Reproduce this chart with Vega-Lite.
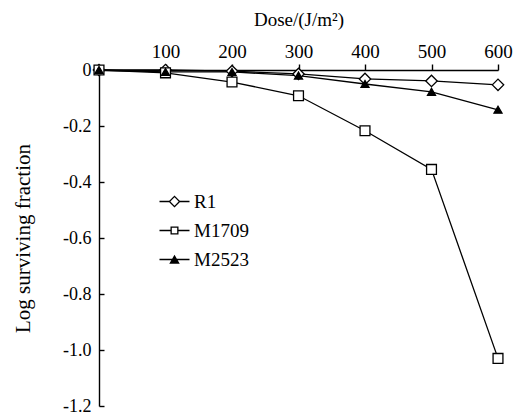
{
  "$schema": "https://vega.github.io/schema/vega-lite/v6.json",
  "width": 399,
  "height": 336,
  "autosize": {"type": "none"},
  "padding": {"left": 99, "top": 70, "right": 33, "bottom": 10},
  "background": "white",
  "config": {
    "view": {"stroke": null},
    "font": "Liberation Serif",
    "axis": {
      "grid": false,
      "domainColor": "black",
      "tickColor": "black",
      "labelColor": "black",
      "titleColor": "black",
      "labelFont": "Liberation Serif",
      "titleFont": "Liberation Serif",
      "labelFontSize": 19,
      "titleFontSize": 19,
      "titleFontWeight": "normal",
      "domainWidth": 1.4,
      "tickWidth": 1.4,
      "labelFlush": false
    }
  },
  "data": {
    "values": [
      {"series": "R1", "dose": 0, "logsf": 0},
      {"series": "R1", "dose": 100, "logsf": 0},
      {"series": "R1", "dose": 200, "logsf": -0.004},
      {"series": "R1", "dose": 300, "logsf": -0.014},
      {"series": "R1", "dose": 400, "logsf": -0.032},
      {"series": "R1", "dose": 500, "logsf": -0.039},
      {"series": "R1", "dose": 600, "logsf": -0.053},
      {"series": "M1709", "dose": 0, "logsf": 0},
      {"series": "M1709", "dose": 100, "logsf": -0.01},
      {"series": "M1709", "dose": 200, "logsf": -0.043},
      {"series": "M1709", "dose": 300, "logsf": -0.092},
      {"series": "M1709", "dose": 400, "logsf": -0.217},
      {"series": "M1709", "dose": 500, "logsf": -0.355},
      {"series": "M1709", "dose": 600, "logsf": -1.03},
      {"series": "M2523", "dose": 0, "logsf": 0},
      {"series": "M2523", "dose": 100, "logsf": -0.007},
      {"series": "M2523", "dose": 200, "logsf": -0.007},
      {"series": "M2523", "dose": 300, "logsf": -0.02},
      {"series": "M2523", "dose": 400, "logsf": -0.05},
      {"series": "M2523", "dose": 500, "logsf": -0.078},
      {"series": "M2523", "dose": 600, "logsf": -0.142}
    ]
  },
  "encoding": {
    "x": {
      "field": "dose",
      "type": "quantitative",
      "scale": {"domain": [0, 600], "nice": false},
      "axis": {
        "orient": "top",
        "values": [100, 200, 300, 400, 500, 600],
        "title": "Dose/(J/m²)",
        "tickSize": 6,
        "labelPadding": 3,
        "titlePadding": 13
      }
    },
    "y": {
      "field": "logsf",
      "type": "quantitative",
      "scale": {"domain": [-1.2, 0], "nice": false, "zero": false},
      "axis": {
        "values": [0, -0.2, -0.4, -0.6, -0.8, -1.0, -1.2],
        "tickSize": -5,
        "labelPadding": 13,
        "labelFontSize": 18,
        "labelExpr": "datum.value == 0 ? '0' : replace(format(datum.value, '.1f'), '\u2212', '-')",
        "title": "Log surviving fraction",
        "titleFontSize": 21,
        "titlePadding": 29
      }
    }
  },
  "layer": [
    {
      "mark": {"type": "line", "color": "black", "strokeWidth": 1.3},
      "encoding": {"detail": {"field": "series"}}
    },
    {
      "mark": {"type": "point", "filled": true, "opacity": 1, "stroke": "black", "strokeWidth": 1.3},
      "encoding": {
        "shape": {
          "field": "series",
          "type": "nominal",
          "scale": {"domain": ["R1", "M1709", "M2523"], "range": ["diamond", "square", "triangle-up"]},
          "legend": null
        },
        "fill": {
          "field": "series",
          "type": "nominal",
          "scale": {"domain": ["R1", "M1709", "M2523"], "range": ["white", "white", "black"]},
          "legend": null
        },
        "size": {
          "field": "series",
          "type": "nominal",
          "scale": {"domain": ["R1", "M1709", "M2523"], "range": [130, 64, 90]},
          "legend": null
        }
      }
    },
    {
      "transform": [{"filter": "false"}],
      "mark": {"type": "point", "filled": true, "color": "black", "opacity": 1, "size": 100, "strokeWidth": 0},
      "encoding": {
        "shape": {
          "field": "series",
          "type": "nominal",
          "scale": {
            "domain": ["R1", "M1709", "M2523"],
            "range": [
              "M0,-1.2L1.2,0L0,1.2L-1.2,0ZM0,-0.83L-0.83,0L0,0.83L0.83,0ZM-3,-0.13H-1.05V0.13H-3ZM1.05,-0.13H3V0.13H1.05Z",
              "M-0.8,-0.8H0.8V0.8H-0.8ZM-0.54,-0.54V0.54H0.54V-0.54ZM-3,-0.13H-0.8V0.13H-3ZM0.8,-0.13H3V0.13H0.8Z",
              "M-3,-0.13H3V0.13H-3ZM0,-0.95L1.05,0.85H-1.05Z"
            ]
          },
          "legend": {
            "orient": "none",
            "legendX": 66,
            "legendY": 122,
            "title": null,
            "padding": 0,
            "symbolSize": 100,
            "symbolFillColor": "black",
            "symbolStrokeWidth": 0,
            "labelFont": "Liberation Serif",
            "labelFontSize": 19,
            "labelColor": "black",
            "labelOffset": 10,
            "rowPadding": 9
          }
        }
      }
    }
  ],
  "resolve": {"scale": {"shape": "independent"}, "legend": {"shape": "independent"}}
}
